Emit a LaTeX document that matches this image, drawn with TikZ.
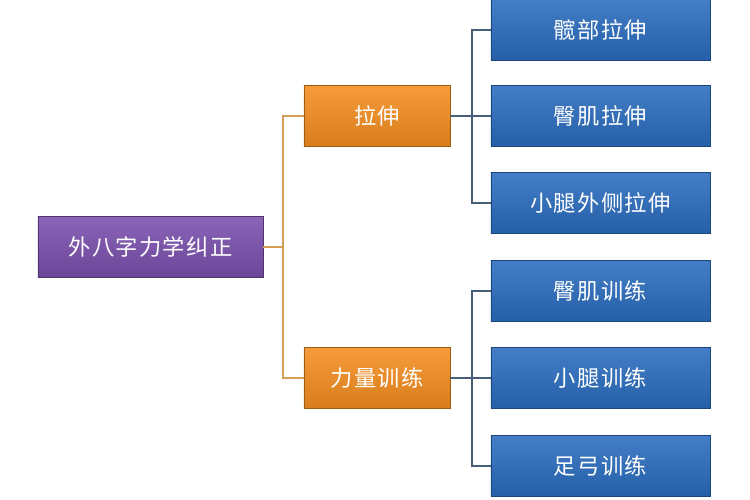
\documentclass[tikz,border=0pt]{standalone}
\usepackage{fontspec}
\newfontfamily\cjk[LetterSpace=6]{Noto Sans CJK SC}
\usetikzlibrary{positioning, calc, shadows}

\definecolor{rootcol}{HTML}{7A50AD}
\definecolor{midcol}{HTML}{F58E1F}
\definecolor{leafcol}{HTML}{2A6CBE}
\definecolor{trunkline}{HTML}{D39E58}
\definecolor{branchline}{HTML}{465E78}

\begin{document}
\begin{tikzpicture}[x=0.03cm, y=-0.03cm,
	box/.style={rectangle, draw=#1!65!black, line width=0.6pt, text=white,
		top color=#1!88!white, bottom color=#1!88!black,
		drop shadow={shadow xshift=0.6pt, shadow yshift=-0.8pt, opacity=0.35},
		font=\cjk\fontsize{19}{22}\selectfont, inner sep=0pt},
	rootbox/.style={box=rootcol, minimum width=6.75cm, minimum height=1.83cm},
	midbox/.style={box=midcol, minimum width=4.38cm, minimum height=1.83cm},
	leafbox/.style={box=leafcol, minimum width=6.57cm, minimum height=1.83cm},
	trunk/.style={draw=trunkline, line width=2pt},
	branch/.style={draw=branchline, line width=2pt}]
	\useasboundingbox (0,0) rectangle (750,500);
	\fill[white] (0,0) rectangle (750,500);

	\node[rootbox] (root) at (150.5, 247) {外八字力学纠正};
	\node[midbox] (s1) at (377, 116) {拉伸};
	\node[midbox] (s2) at (377, 378) {力量训练};

	\node[leafbox] (l1) at (600.5, 30) {髋部拉伸};
	\node[leafbox] (l2) at (600.5, 116) {臀肌拉伸};
	\node[leafbox] (l3) at (600.5, 203) {小腿外侧拉伸};
	\node[leafbox] (l4) at (600.5, 291) {臀肌训练};
	\node[leafbox] (l5) at (600.5, 378) {小腿训练};
	\node[leafbox] (l6) at (600.5, 466) {足弓训练};

	\coordinate (j0) at (283, 247);
	\coordinate (j1) at (472, 116);
	\coordinate (j2) at (472, 378);

	\path[trunk] (root.east) -- (j0);
	\path[trunk] (j0) |- (s1.west);
	\path[trunk] (j0) |- (s2.west);
	\path[branch] (s1.east) -- (j1);
	\foreach \l in {l1, l2, l3}
		\path[branch] (j1) |- (\l.west);
	\path[branch] (s2.east) -- (j2);
	\foreach \l in {l4, l5, l6}
		\path[branch] (j2) |- (\l.west);
\end{tikzpicture}
\end{document}
